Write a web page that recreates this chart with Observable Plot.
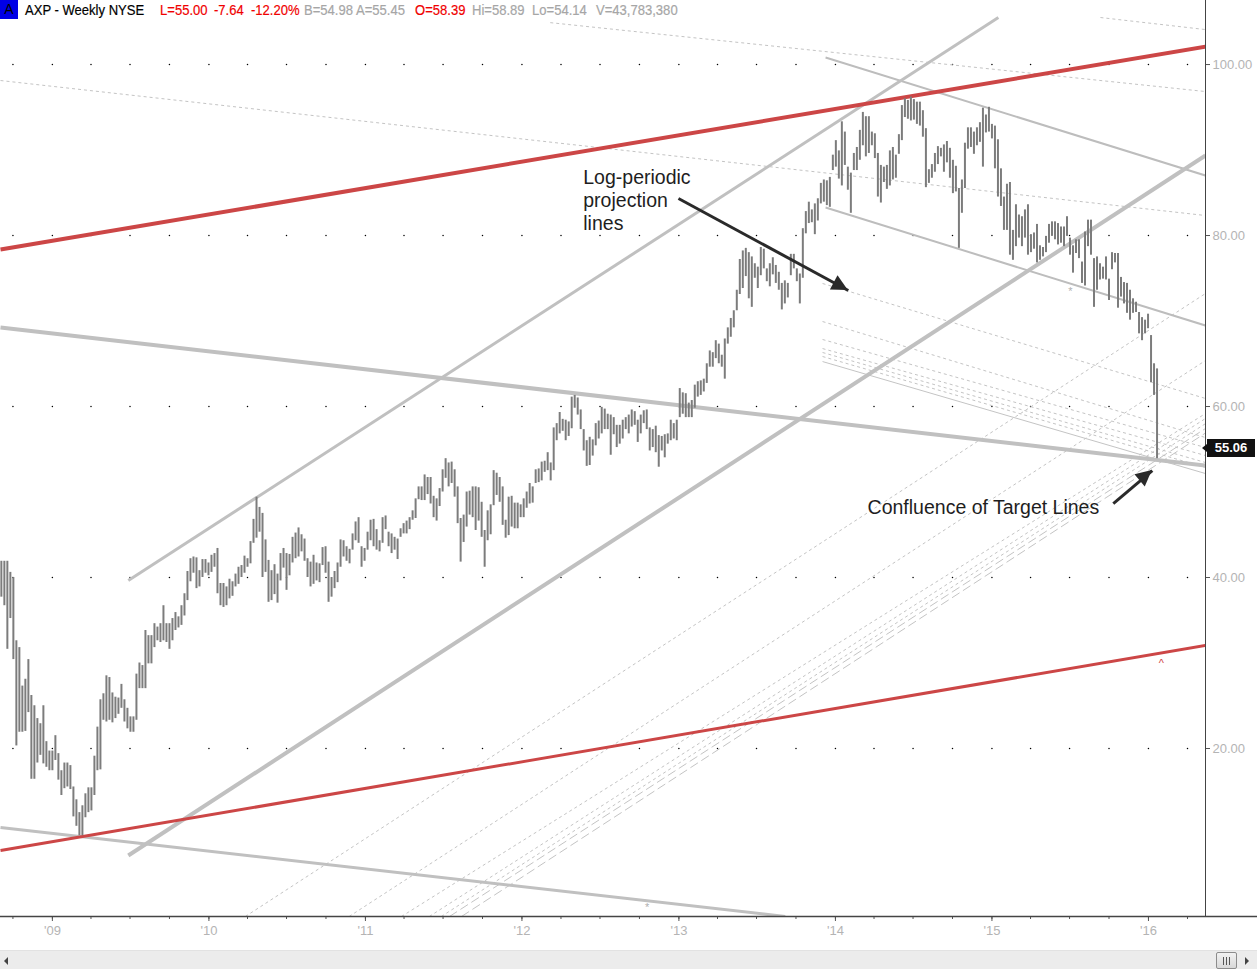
<!DOCTYPE html>
<html>
<head>
<meta charset="utf-8">
<script src="https://cdn.jsdelivr.net/npm/d3@7"></script>
<script src="https://cdn.jsdelivr.net/npm/@observablehq/plot@0.6"></script>
<style>
  html, body { margin: 0; padding: 0; background: #fff; }
  body { width: 1257px; height: 969px; overflow: hidden; position: relative; font-family: "Liberation Sans", Arial, sans-serif; }
  #chart { position: absolute; left: 0; top: 0; }
  #chart svg { font-family: "Liberation Sans", Arial, sans-serif; }
  g[aria-label="y-axis tick label"], g[aria-label="x-axis tick label"] { fill: #b4b4b4; }
  g[aria-label="y-axis tick"], g[aria-label="x-axis tick"] { stroke: #555; }
  .hdr { position: absolute; top: 0; font-size: 15px; line-height: 19px; white-space: nowrap; transform: scaleX(0.87); transform-origin: 0 0; -webkit-text-stroke: 0.2px currentColor; }
  #abox { position: absolute; left: 0; top: 0; width: 18px; height: 19px; background: #0000e6; color: #000; font-size: 14px; line-height: 19px; text-align: center; }
  #pricebox { position: absolute; left: 1207px; width: 48px; height: 18px; background: #111; color: #fff; font-size: 13px; line-height: 18px; text-align: center; font-weight: bold; }
  #pricebox:before { content: ""; position: absolute; left: -5px; top: 5px; border-top: 4px solid transparent; border-bottom: 4px solid transparent; border-right: 5px solid #111; }
  #sb { position: absolute; left: 0; top: 950px; width: 1257px; height: 19px; background: #ececec; border-top: 1px solid #e2e2e2; box-sizing: border-box; }
  #sbl { position: absolute; left: 4px; top: 6px; border-top: 4px solid transparent; border-bottom: 4px solid transparent; border-right: 4px solid #444; }
  #sbr { position: absolute; left: 1245px; top: 6px; border-top: 4px solid transparent; border-bottom: 4px solid transparent; border-left: 4px solid #444; }
  #sbt { position: absolute; left: 1216px; top: 1px; width: 19px; height: 15px; border: 1px solid #8c8c8c; border-radius: 2px; background: linear-gradient(#f2f2f2, #d8d8d8); }
  #sbt i { position: absolute; top: 4px; width: 1px; height: 8px; background: #555; }
</style>
</head>
<body>
<div id="chart"></div>
<div id="abox">A</div>
<div id="header"></div>
<div id="sb"><div id="sbl"></div><div id="sbt"><i style="left:6px"></i><i style="left:9px"></i><i style="left:12px"></i></div><div id="sbr"></div></div>
<script>
// ---------------- DATA ----------------
const firstWeek = "2008-09-04";
const weeklyHigh = [
41.9,41.9,41.9,40.6,40.0,32.6,31.8,27.3,28.1,30.4,
26.2,25.0,23.5,22.9,25.0,20.8,19.7,19.7,21.5,19.4,
17.4,18.3,18.3,18.0,15.5,14.0,12.5,13.3,14.7,15.4,
15.4,19.1,22.5,25.7,26.4,28.5,28.3,26.5,26.0,25.9,
27.5,25.7,24.7,23.7,23.7,28.7,30.0,29.7,33.8,33.2,
33.2,34.6,34.2,34.6,36.7,34.6,34.6,35.2,35.9,35.4,
36.7,38.1,40.7,42.2,42.4,42.3,40.8,42.1,42.1,41.7,
42.6,42.8,43.4,39.3,39.3,38.9,39.8,39.5,40.4,41.2,
41.4,42.5,42.2,44.2,46.8,49.4,48.2,47.5,44.4,42.0,
40.8,41.5,40.4,42.8,43.4,42.8,42.7,44.7,45.2,45.8,
45.0,44.5,42.2,41.8,42.6,41.7,41.6,43.5,43.6,41.8,
40.0,40.7,41.7,44.4,44.3,43.6,43.3,45.1,46.5,47.0,
43.6,43.4,45.3,46.7,46.8,45.6,44.3,47.0,47.2,45.3,
45.1,44.7,44.5,45.7,46.3,46.6,47.0,47.8,49.2,50.6,
50.6,52.0,51.7,51.7,49.5,49.2,50.4,52.6,53.9,53.4,
53.5,52.6,50.6,46.9,47.3,50.0,50.1,50.6,50.6,50.5,
48.8,45.5,47.8,48.5,52.5,52.2,51.7,50.6,46.7,49.4,
49.5,48.7,48.7,48.5,49.2,50.0,51.0,50.6,52.6,52.7,
53.5,53.6,54.6,53.4,57.5,58.0,59.3,58.5,58.4,58.2,
61.1,61.3,61.0,59.6,57.3,56.0,56.4,56.1,58.0,58.3,
59.9,59.7,59.1,59.0,58.7,57.8,57.8,58.4,58.7,59.0,
59.6,59.4,58.4,59.0,59.5,59.6,57.5,57.3,57.7,56.6,
56.5,56.7,56.8,58.4,58.0,58.4,62.1,61.6,61.5,60.4,
60.7,62.5,62.9,63.0,63.2,65.0,66.5,66.3,67.7,67.3,
66.0,67.9,69.2,70.3,71.2,73.6,77.2,78.2,78.5,78.0,
77.5,76.7,76.3,78.6,78.4,76.1,76.7,77.4,76.5,75.7,
74.4,74.7,74.4,77.8,77.8,76.1,75.5,80.8,82.8,83.9,
83.0,83.7,84.3,86.1,86.5,86.4,86.8,89.4,91.1,89.9,
93.3,92.1,88.0,87.3,89.6,90.3,92.3,94.4,93.9,93.9,
92.1,91.9,89.6,88.2,88.0,88.2,89.9,90.3,89.4,91.8,
95.2,96.0,95.8,96.2,95.9,95.6,95.6,94.6,92.5,87.7,
88.3,89.6,90.4,90.2,90.6,91.0,90.2,88.8,88.1,85.5,
86.5,90.8,92.6,92.6,92.1,92.6,93.2,94.9,94.1,95.0,
93.0,92.8,91.2,87.8,84.5,86.0,86.2,80.6,83.6,82.4,
82.2,83.0,83.6,80.1,80.3,81.3,78.8,78.6,79.9,81.3,
81.6,81.6,81.4,81.0,81.0,82.2,79.7,78.8,79.5,79.5,
76.9,80.4,81.8,81.8,77.3,77.5,76.7,76.3,77.5,74.9,
78.0,77.9,77.9,75.1,74.5,74.4,73.6,72.6,72.2,71.0,
70.4,70.1,70.8,68.3,65.0,64.4
];
const weeklyLow = [
37.7,36.7,31.6,35.2,30.4,20.3,21.9,21.9,22.0,24.2,
16.4,16.4,18.3,19.2,18.2,17.8,17.4,17.4,18.6,16.3,
14.5,15.3,15.5,15.2,12.0,10.9,9.8,9.8,11.9,12.5,
12.7,14.5,17.4,17.5,23.3,23.1,23.3,23.0,23.5,24.0,
24.7,23.1,22.3,21.9,21.9,23.3,27.0,27.0,27.0,29.9,
29.9,31.8,32.6,32.4,32.6,32.4,31.6,32.6,33.8,34.1,
34.4,35.5,37.3,39.5,40.5,38.7,38.9,40.0,40.5,40.2,
40.6,41.2,38.1,36.7,36.5,36.7,37.5,37.8,38.9,39.2,
40.0,40.5,41.2,41.6,44.0,44.6,45.3,40.0,40.6,37.1,
37.3,38.0,37.0,39.6,41.1,38.5,40.2,41.7,42.2,42.4,
43.0,41.9,40.0,38.9,39.2,39.6,39.4,41.4,40.5,37.1,
37.7,38.7,39.4,41.2,42.4,41.9,41.6,43.2,44.3,44.0,
41.2,41.9,43.2,44.3,43.6,43.2,43.0,44.0,45.6,43.6,
42.8,43.2,42.1,44.7,45.1,45.1,45.6,46.7,46.9,49.1,
49.0,49.0,49.7,48.6,47.0,46.6,48.3,50.0,51.6,50.6,
51.0,49.4,46.3,41.8,44.1,45.9,47.3,47.0,45.5,46.6,
44.7,41.2,44.3,45.0,48.4,49.6,48.8,46.1,44.6,44.9,
45.9,45.7,45.7,47.0,47.0,48.1,48.6,48.7,51.0,51.1,
51.3,52.3,52.5,51.3,52.5,56.0,56.8,57.1,56.0,56.5,
57.4,59.8,59.0,57.3,54.8,53.0,53.1,54.2,55.4,56.2,
56.8,57.3,57.3,54.3,56.7,55.2,55.6,56.2,57.3,56.8,
57.6,57.8,55.8,56.8,58.0,57.3,54.8,55.2,54.6,52.9,
54.8,54.0,55.6,56.0,56.2,56.0,58.7,59.1,58.7,58.7,
58.7,59.8,61.1,61.3,61.7,62.7,64.6,64.6,65.6,65.0,
64.6,63.2,67.3,68.1,69.2,71.2,73.1,73.8,75.2,72.6,
71.6,75.0,73.8,75.3,76.1,74.6,74.0,75.4,74.4,73.6,
71.3,72.0,72.7,75.3,76.1,74.6,72.0,75.0,80.2,81.4,
81.5,80.1,81.7,83.7,83.9,83.5,83.3,87.6,88.0,86.6,
85.8,88.2,85.3,82.6,87.6,87.6,88.8,90.5,89.2,89.6,
90.5,89.0,84.5,83.8,86.2,85.4,85.8,86.5,86.7,89.5,
91.1,93.8,93.6,93.4,93.5,93.0,92.8,91.5,85.6,86.1,
86.7,87.4,88.3,89.2,87.4,88.5,86.7,84.9,85.1,78.5,
82.6,85.5,90.1,90.3,89.5,90.5,90.9,88.0,92.0,92.1,
91.3,87.8,84.5,83.4,80.6,80.6,77.7,77.1,78.7,79.7,
78.7,79.7,77.7,78.0,78.4,76.8,77.1,77.5,78.0,79.1,
79.9,79.5,78.9,79.1,78.7,79.9,77.7,75.6,77.9,77.3,
74.4,74.1,78.7,77.7,71.6,73.6,74.8,74.9,74.8,72.4,
76.0,76.8,71.5,72.8,72.0,70.9,70.1,70.9,71.0,68.5,
67.7,68.5,69.1,62.8,61.3,53.9
];
const lastClose = 55.06;

// axis ticks
const xDomain = ["2008-09-02", "2016-05-13"];
const yDomain = [0.35, 107.49];
const yTicks = [20, 40, 60, 80, 100];
const yearTicks = ["2009-01-01","2010-01-01","2011-01-01","2012-01-01","2013-01-01","2014-01-01","2015-01-01","2016-01-01"];
const yearLabels = ["'09","'10","'11","'12","'13","'14","'15","'16"];

// trend lines: [date1, price1, date2, price2]
const redUpper = [["2008-09-02", 78.36, "2016-05-13", 102.10]];
const redLower = [["2008-09-02", 8.07, "2016-05-13", 32.05]];
const grayHeavy = [
  ["2008-09-02", 69.24, "2016-05-13", 53.10],
  ["2009-06-27", 7.49, "2016-05-13", 89.36]
];
const grayMedium = [
  ["2009-06-27", 39.65, "2015-01-16", 105.50],
  ["2008-09-02", 10.76, "2013-09-06", 0.35]
];
const grayLight = [
  ["2013-12-09", 100.82, "2016-05-13", 87.02],
  ["2013-12-09", 83.27, "2016-05-13", 69.47]
];
const dashedLines = [
  ["2015-09-11", 105.50, "2016-05-13", 104.09],
  ["2012-03-07", 104.90, "2016-05-13", 96.84],
  ["2008-09-02", 98.13, "2016-05-13", 82.34],
  ["2013-12-02", 74.39, "2016-05-13", 60.94],
  ["2013-12-02", 69.94, "2016-05-13", 56.37],
  ["2013-12-02", 67.84, "2016-05-13", 55.20],
  ["2013-12-02", 66.78, "2016-05-13", 54.27],
  ["2013-12-02", 66.32, "2016-05-13", 53.45],
  ["2013-12-02", 65.85, "2016-05-13", 52.87],
  ["2010-03-27", 0.35, "2016-05-13", 73.22],
  ["2010-11-24", 0.35, "2016-05-13", 65.38],
  ["2011-03-26", 0.35, "2016-05-13", 59.18],
  ["2011-05-30", 0.35, "2016-05-13", 58.60],
  ["2011-06-27", 0.35, "2016-05-13", 58.00]
];
const longDashLines = [
  ["2011-07-16", 0.35, "2016-05-13", 57.43],
  ["2011-08-13", 0.35, "2016-05-13", 56.90]
];
const thinSolidLines = [["2013-12-02", 65.26, "2016-05-13", 52.16]];
const arrowLines = [
  ["2012-12-31", 84.33, "2014-01-31", 73.57],
  ["2015-10-11", 48.65, "2016-01-10", 52.51]
];
const notes = [
  ["2012-05-23", 84.2, "Log-periodic\nprojection\nlines"],
  ["2014-03-17", 48.30, "Confluence of Target Lines"]
];
const smallMarks = [
  ["2016-01-31", 29.9, "^", "#d04040"],
  ["2015-07-03", 73.5, "*", "#b0b0b0"],
  ["2012-10-19", 1.4, "*", "#b0b0b0"]
];
const headerItems = [
  ["AXP - Weekly  NYSE", "#000"], ["L=55.00", "#f00000"], ["-7.64", "#f00000"], ["-12.20%", "#f00000"],
  ["B=54.98", "#a6a6a6"], ["A=55.45", "#a6a6a6"], ["O=58.39", "#f00000"],
  ["Hi=58.89", "#a6a6a6"], ["Lo=54.14", "#a6a6a6"], ["V=43,783,380", "#a6a6a6"]
];

// ---------------- BUILD ----------------
const D = s => new Date(s + "T00:00:00Z");
const start = D(firstWeek);
const bars = weeklyHigh.map((h, i) => ({date: d3.utcDay.offset(start, 7 * i), high: h, low: weeklyLow[i]}));
const seg = arr => arr.map(([a, p, b, q]) => ({x1: D(a), y1: p, x2: D(b), y2: q}));
const quarterTicks = d3.utcMonth.every(3).range(D("2008-10-01"), D("2016-05-01"));
const gridPts = d3.cross(quarterTicks, yTicks).map(([x, y]) => ({x, y}));
const xEnd = D(xDomain[1]);

const chart = Plot.plot({
  width: 1257, height: 948,
  marginLeft: 0, marginRight: 52, marginTop: 0, marginBottom: 32,
  x: {type: "utc", domain: xDomain.map(D)},
  y: {domain: yDomain},
  marks: [
    Plot.dot(gridPts, {x: "x", y: "y", r: 0.75, fill: "#000", stroke: null}),
    Plot.link(seg(dashedLines), {x1: "x1", y1: "y1", x2: "x2", y2: "y2", stroke: "#c4c4c4", strokeWidth: 1, strokeDasharray: "3,3", clip: true}),
    Plot.link(seg(longDashLines), {x1: "x1", y1: "y1", x2: "x2", y2: "y2", stroke: "#c4c4c4", strokeWidth: 1, strokeDasharray: "9,4", clip: true}),
    Plot.link(seg(thinSolidLines), {x1: "x1", y1: "y1", x2: "x2", y2: "y2", stroke: "#c4c4c4", strokeWidth: 1, clip: true}),
    Plot.link(seg(grayLight), {x1: "x1", y1: "y1", x2: "x2", y2: "y2", stroke: "#bdbdbd", strokeWidth: 2, clip: true}),
    Plot.link(seg(grayMedium), {x1: "x1", y1: "y1", x2: "x2", y2: "y2", stroke: "#c0c0c0", strokeWidth: 3, clip: true}),
    Plot.link(seg(grayHeavy), {x1: "x1", y1: "y1", x2: "x2", y2: "y2", stroke: "#c0c0c0", strokeWidth: 4, clip: true}),
    Plot.link(seg(redLower), {x1: "x1", y1: "y1", x2: "x2", y2: "y2", stroke: "#cc4646", strokeWidth: 3, clip: true}),
    Plot.link(seg(redUpper), {x1: "x1", y1: "y1", x2: "x2", y2: "y2", stroke: "#cc4646", strokeWidth: 4, clip: true}),
    Plot.ruleX(bars, {x: "date", y1: "low", y2: "high", stroke: "#7c7c7c", strokeWidth: 2}),
    Plot.link(seg(arrowLines), {x1: "x1", y1: "y1", x2: "x2", y2: "y2", stroke: "#2a2a2a", strokeWidth: 3}),
    Plot.text(notes, {x: d => D(d[0]), y: d => d[1], text: d => d[2], textAnchor: "start", lineAnchor: "middle", lineHeight: 1.17, fontSize: 19.5, fill: "#1e1e1e"}),
    Plot.text(smallMarks, {x: d => D(d[0]), y: d => d[1], text: d => d[2], fill: d => d[3], fontSize: 11}),
    Plot.ruleX([xEnd], {stroke: "#444", strokeWidth: 1}),
    Plot.axisY({anchor: "right", ticks: yTicks, tickFormat: d => d.toFixed(2), tickSize: 4, tickPadding: 3, fontSize: 13, label: null}),
    Plot.axisX({ticks: yearTicks.map(D), tickFormat: (d, i) => yearLabels[i], tickSize: 5, tickPadding: 4, fontSize: 13, label: null}),
    Plot.axisX({ticks: quarterTicks, tickFormat: () => "", tickSize: 3, label: null})
  ]
});
document.getElementById("chart").appendChild(chart);

// post-render details using the plot's own scales
const sx = chart.scale("x"), sy = chart.scale("y");
const svg = d3.select(chart);
const yBottom = sy.apply(yDomain[0]);
svg.append("line").attr("x1", 0).attr("x2", 1257).attr("y1", yBottom + 0.5).attr("y2", yBottom + 0.5).attr("stroke", "#444").attr("stroke-width", 1.5);
seg(arrowLines).forEach(a => {
  const x1 = sx.apply(a.x1), y1 = sy.apply(a.y1), x2 = sx.apply(a.x2), y2 = sy.apply(a.y2);
  const ang = Math.atan2(y2 - y1, x2 - x1), L = 16, W = 8;
  const bx = x2 - L * Math.cos(ang), by = y2 - L * Math.sin(ang);
  const px = -Math.sin(ang) * W, py = Math.cos(ang) * W;
  svg.append("polygon").attr("points", `${x2},${y2} ${bx + px},${by + py} ${bx - px},${by - py}`).attr("fill", "#2a2a2a");
});

// price label box
const pb = document.createElement("div");
pb.id = "pricebox";
pb.textContent = lastClose.toFixed(2);
pb.style.top = (sy.apply(lastClose) - 9) + "px";
document.body.appendChild(pb);

// header
const hdrLefts = [25, 160, 214, 251, 304, 356, 415, 472, 532, 596];
const hdr = document.getElementById("header");
headerItems.forEach(([t, c], i) => {
  const s = document.createElement("div");
  s.className = "hdr"; s.textContent = t; s.style.color = c; s.style.left = hdrLefts[i] + "px";
  hdr.appendChild(s);
});
</script>
</body>
</html>
